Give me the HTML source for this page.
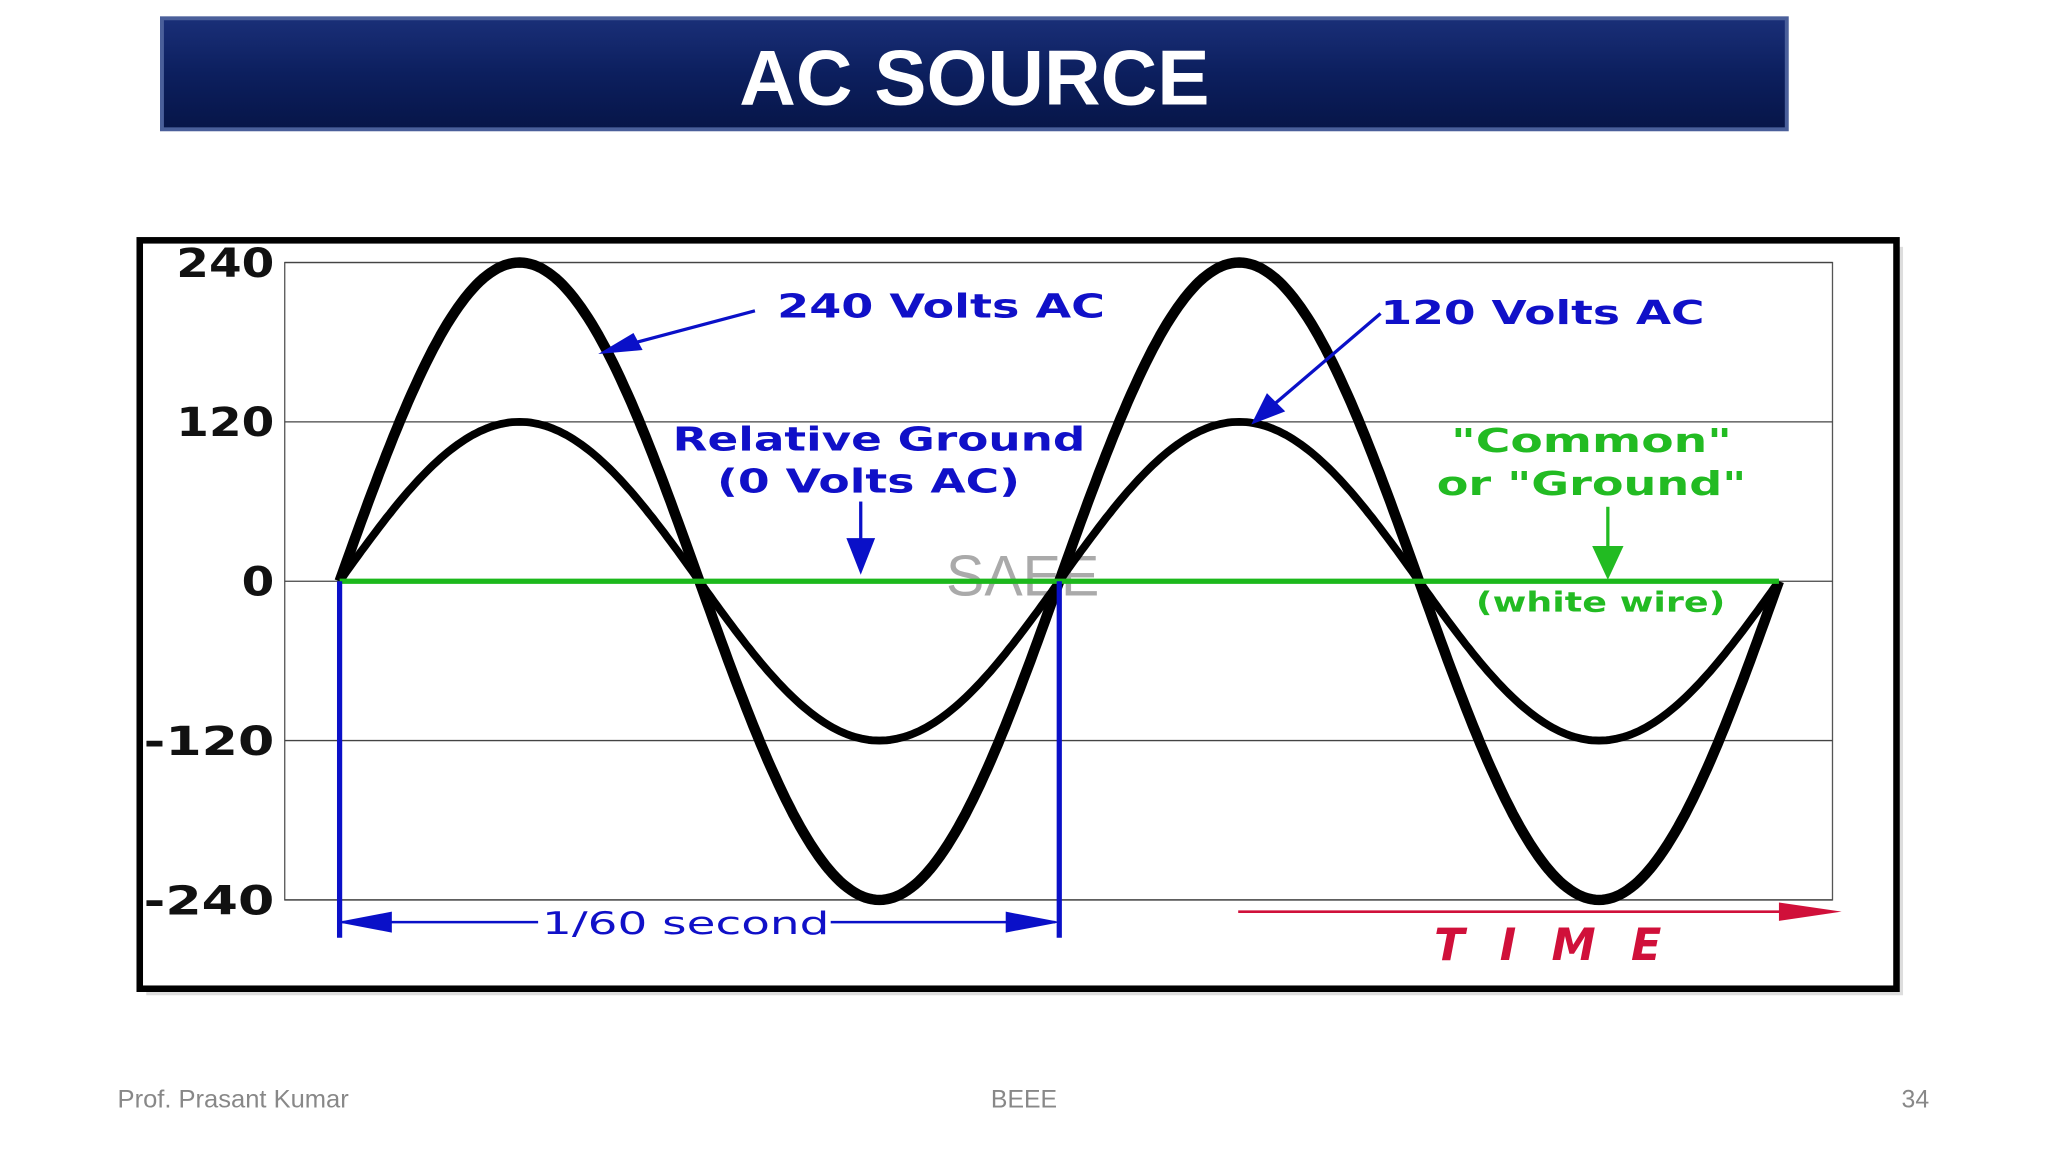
<!DOCTYPE html>
<html><head><meta charset="utf-8"><style>
html,body{margin:0;padding:0;background:#fff;}
svg{display:block;}
</style></head><body>
<svg id="s" width="2048" height="1152" viewBox="0 0 1568 882" xmlns="http://www.w3.org/2000/svg" font-family="Liberation Sans, sans-serif">
<defs>
<linearGradient id="tg" x1="0" y1="0" x2="0" y2="1">
<stop offset="0" stop-color="#1a2f78"/><stop offset="0.5" stop-color="#0c1f5e"/><stop offset="1" stop-color="#071548"/>
</linearGradient>
</defs>
<rect width="1568" height="882" fill="#fff"/>
<g>
<rect x="124" y="14" width="1244" height="85" fill="url(#tg)" stroke="#4a5f9a" stroke-width="3"/>
<text x="746" y="80" text-anchor="middle" font-size="60" font-weight="bold" fill="#fff">AC SOURCE</text>
</g>
<rect x="112" y="189" width="1345" height="573" fill="#bbb" opacity="0.5"/>
<rect x="107" y="184" width="1345" height="573" fill="#fff" stroke="#000" stroke-width="5"/>
<g id="grid"></g>
<g id="ylab"></g>
<text x="783" y="456" text-anchor="middle" font-size="44" fill="#aaa">SAEE</text>
<g id="waves"></g>
<g font-weight="bold" font-family="DejaVu Sans, sans-serif" lengthAdjust="spacingAndGlyphs">
<text x="595" y="243" font-size="25" fill="#1010c8" textLength="251" lengthAdjust="spacingAndGlyphs">240 Volts AC</text>
<line x1="578" y1="238" x2="480" y2="264" stroke="#0a10c8" stroke-width="2.5"/>
<path d="M458,271 L485,255 L492,268 z" fill="#0a10c8"/>
<text x="1057" y="248" font-size="25" fill="#1010c8" textLength="248" lengthAdjust="spacingAndGlyphs">120 Volts AC</text>
<line x1="1057" y1="240" x2="975" y2="310" stroke="#0a10c8" stroke-width="2.5"/>
<path d="M958,325 L970,301 L984,315 z" fill="#0a10c8"/>
<text x="515" y="345" font-size="25" fill="#1010c8" textLength="316" lengthAdjust="spacingAndGlyphs">Relative Ground</text>
<text x="549" y="377" font-size="25" fill="#1010c8" textLength="232" lengthAdjust="spacingAndGlyphs">(0 Volts AC)</text>
<line x1="659" y1="384" x2="659" y2="415" stroke="#0a10c8" stroke-width="2.5"/>
<path d="M648,412 L670,412 L659,440 z" fill="#0a10c8"/>
<text x="1111" y="346" font-size="25" fill="#22bb22" textLength="215" lengthAdjust="spacingAndGlyphs">"Common"</text>
<text x="1100" y="379" font-size="25" fill="#22bb22" textLength="237" lengthAdjust="spacingAndGlyphs">or "Ground"</text>
<line x1="1231" y1="388" x2="1231" y2="420" stroke="#22bb22" stroke-width="2.5"/>
<path d="M1219,418 L1243,418 L1231,444 z" fill="#22bb22"/>
<text x="1130" y="468" font-size="21" fill="#22bb22" textLength="191" lengthAdjust="spacingAndGlyphs">(white wire)</text>
<line x1="262" y1="706" x2="412" y2="706" stroke="#0a10c8" stroke-width="2"/>
<path d="M258,706 L300,698 L300,714 z" fill="#0a10c8"/>
<line x1="636" y1="706" x2="808" y2="706" stroke="#0a10c8" stroke-width="2"/>
<path d="M812,706 L770,698 L770,714 z" fill="#0a10c8"/>
<text x="415" y="715" font-size="24" font-weight="normal" fill="#1010c8" textLength="220" lengthAdjust="spacingAndGlyphs">1/60 second</text>
<line x1="948" y1="698" x2="1370" y2="698" stroke="#d0103a" stroke-width="2"/>
<path d="M1410,698 L1362,691 L1362,705 z" fill="#d0103a"/>
<text x="1098" y="735" font-size="34" font-style="italic" fill="#d0103a" textLength="174" lengthAdjust="spacing">TIME</text>
</g>
<g font-size="19" fill="#888">
<text x="90" y="848" textLength="177" lengthAdjust="spacingAndGlyphs">Prof. Prasant Kumar</text>
<text x="784" y="848" text-anchor="middle">BEEE</text>
<text x="1477" y="848" text-anchor="end">34</text>
</g>
</svg>
<script>
const yTicks=[240,120,0,-120,-240];
const tickLabels=["240","120","0","-120","-240"];
const amplitudes=[240,120];
const cycles=[2];
const NS="http://www.w3.org/2000/svg";
const X0=218,X1=1403,Y0=201,Y1=689;
const TS=260,TE=1362;
function ys(v){return Y0+(240-v)/480*(Y1-Y0);}
function xs(t){return TS+t*(TE-TS);}
function mk(tag,at,p){const e=document.createElementNS(NS,tag);for(const k in at)e.setAttribute(k,at[k]);p.appendChild(e);return e;}
const g=document.getElementById('grid'),yl=document.getElementById('ylab'),w=document.getElementById('waves');
mk('rect',{x:X0,y:Y0,width:X1-X0,height:Y1-Y0,fill:'none',stroke:'#555','stroke-width':1},g);
yTicks.forEach((v,i)=>{
 const l=mk('line',{x1:X0,x2:X1,y1:ys(v),y2:ys(v),stroke:'#444','stroke-width':1},g);
 
 
 const s=tickLabels[i];
 const t=mk('text',{x:210,y:ys(v)+11,'text-anchor':'end','font-size':31,'font-weight':'bold','font-family':'DejaVu Sans, sans-serif',fill:'#111',textLength:s.length*25,lengthAdjust:'spacingAndGlyphs'},yl);
 t.textContent=s;
 
 
});
amplitudes.forEach(a=>{
 let d='';const N=400;
 for(let i=0;i<=N;i++){const t=i/N;const v=a*Math.sin(2*Math.PI*cycles[0]*t);d+=(i?'L':'M')+xs(t).toFixed(1)+','+ys(v).toFixed(1);}
 const p=mk('path',{d:d,fill:'none',stroke:'#000','stroke-width':a===240?8:6,'stroke-linejoin':'round'},w);
 
 
});
const gl=mk('line',{x1:TS,x2:TE,y1:ys(0),y2:ys(0),stroke:'#1cb81c','stroke-width':4},w);


[0,0.5].forEach(t=>{
 const v=mk('line',{x1:xs(t),x2:xs(t),y1:ys(0),y2:718,stroke:'#0a10c8','stroke-width':4},w);
 
 
});
</script>
</body></html>
